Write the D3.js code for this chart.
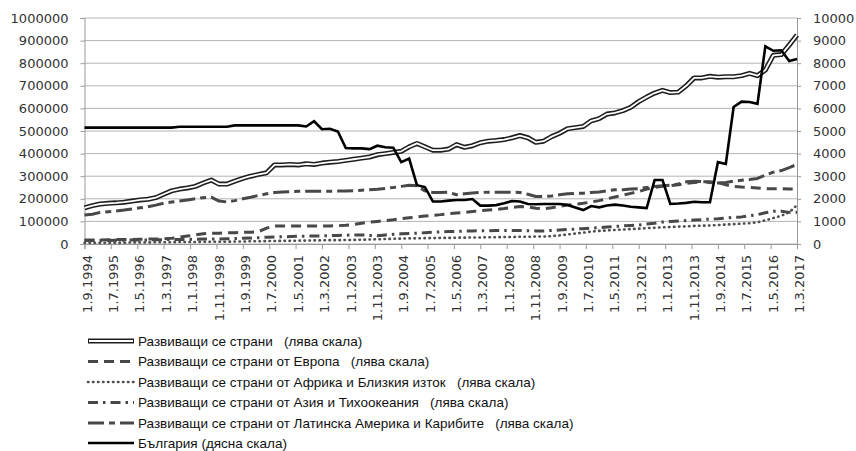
<!DOCTYPE html>
<html><head><meta charset="utf-8">
<script src="https://cdn.jsdelivr.net/npm/d3@7"></script>
<style>body{margin:0;background:#fff} svg{display:block}</style>
</head><body>
<svg id="c" width="856" height="451"></svg>
<script>
// ---------- DATA ----------
const startMonth = "1.9.1994";   // first quarterly observation
const nQuarters = 91;             // quarterly points up to 1.3.2017
const xTickLabels = ["1.9.1994","1.7.1995","1.5.1996","1.3.1997","1.1.1998","1.11.1998","1.9.1999","1.7.2000","1.5.2001","1.3.2002","1.1.2003","1.11.2003","1.9.2004","1.7.2005","1.5.2006","1.3.2007","1.1.2008","1.11.2008","1.9.2009","1.7.2010","1.5.2011","1.3.2012","1.1.2013","1.11.2013","1.9.2014","1.7.2015","1.5.2016","1.3.2017"];
const leftTicks = [0,100000,200000,300000,400000,500000,600000,700000,800000,900000,1000000];
const rightTicks = [0,1000,2000,3000,4000,5000,6000,7000,8000,9000,10000];

// thousands (left scale)
const developing = [160,170,177,180,182,185,190,195,198,205, 220,235,243,248,255,270,283,265,265,278, 290,300,308,315,350,350,352,350,355,352, 358,362,365,370,375,380,385,395,400,405, 410,430,445,430,415,415,420,440,428,435, 448,455,458,462,470,480,470,450,455,475, 490,510,515,520,545,555,575,580,590,605, 630,650,668,680,670,672,700,735,735,742, 738,740,740,745,755,745,770,835,838,880, 925];
const europe = [18,18,18,19,20,20,20,21,22,22, 23,25,30,35,40,45,48,48,50,50, 52,52,55,70,80,80,80,80,80,80, 80,80,81,83,86,92,97,100,103,107, 112,116,120,124,127,130,134,137,140,144, 147,150,153,157,162,166,164,158,156,160, 167,172,176,180,186,192,200,208,216,224, 232,243,250,255,258,262,268,272,275,275, 272,262,255,252,250,248,245,245,245,243, 243];
const africa = [5,5,5,6,6,6,7,7,7,8, 8,8,9,9,9,10,10,10,10,11, 11,12,12,13,13,14,14,15,15,16, 16,17,17,18,18,19,20,21,22,23, 24,25,25,26,26,27,27,28,28,29, 29,30,30,31,31,32,32,33,33,35, 38,42,46,50,55,58,60,62,64,66, 68,70,72,74,75,77,78,80,81,82, 84,86,88,90,92,96,105,115,125,140, 172];
const asia = [15,15,16,16,17,17,18,18,18,19, 19,20,20,20,21,22,22,22,23,24, 25,26,28,30,31,32,33,34,35,35, 36,37,38,39,40,40,38,37,40,43, 45,47,48,50,52,54,55,56,57,58, 59,59,60,60,60,60,59,58,58,60, 62,64,66,68,70,72,75,78,80,82, 84,88,92,97,100,102,104,106,108,110, 112,115,118,120,125,130,138,145,145,140, 140];
const latam = [128,132,140,143,146,150,155,160,165,172, 180,186,190,195,200,205,207,190,186,192, 200,207,215,222,228,230,232,233,233,233, 233,233,234,235,236,238,240,242,246,250, 255,260,258,235,228,228,229,218,222,226, 228,229,229,229,229,228,220,210,210,212, 218,222,224,225,228,230,235,240,240,243, 245,250,255,258,260,265,275,278,276,272, 270,272,278,282,285,290,305,318,325,338, 352];
// right scale
const bulgaria = [5150,5150,5150,5150,5150,5150,5150,5150,5150,5150, 5150,5150,5190,5190,5190,5190,5190,5190,5190,5250, 5250,5250,5250,5250,5250,5250,5250,5250,5200,5430, 5080,5100,4980,4250,4230,4230,4200,4350,4280,4260, 3620,3780,2600,2520,1880,1880,1920,1950,1950,1990, 1700,1700,1720,1800,1900,1880,1770,1760,1770,1770, 1770,1730,1620,1500,1680,1620,1700,1740,1700,1650, 1620,1590,2830,2830,1770,1790,1820,1870,1850,1850, 3620,3540,6060,6300,6280,6200,8750,8550,8570,8100, 8190];

const seriesNames = [
  "Развиващи се страни   (лява скала)",
  "Развиващи се страни от Европа   (лява скала)",
  "Развиващи се страни от Африка и Близкия изток   (лява скала)",
  "Развиващи се страни от Азия и Тихоокеания   (лява скала)",
  "Развиващи се страни от Латинска Америка и Карибите   (лява скала)",
  "България (дясна скала)"
];

// ---------- SETUP ----------
const parseD = s => { const [d,m,y] = s.split(".").map(Number); return new Date(y, m-1, d); };
const dates = d3.range(nQuarters).map(i => d3.timeMonth.offset(parseD(startMonth), 3*i));
const tickDates = xTickLabels.map(parseD);

const svg = d3.select("#c");
const L = 84.5, R = 797, T = 18, B = 244;
const x = d3.scaleTime().domain([tickDates[0], tickDates[tickDates.length-1]]).range([L, R]);
const yL = d3.scaleLinear().domain([0, 1000000]).range([B, T]);
const yR = d3.scaleLinear().domain([0, 10000]).range([B, T]);

const FONT = "DejaVu Sans, Verdana, sans-serif";
const TXT = "#333";
const GRID = "#b4b4b4";

// gridlines
svg.append("g").selectAll("line").data(leftTicks).join("line")
  .attr("x1", L).attr("x2", R).attr("y1", d => yL(d)).attr("y2", d => yL(d))
  .attr("stroke", GRID).attr("stroke-width", 1);

// axes
const gL = svg.append("g").attr("transform", `translate(${L},0)`)
  .call(d3.axisLeft(yL).tickValues(leftTicks).tickSize(4).tickPadding(12).tickFormat(d3.format("d")));
const gR = svg.append("g").attr("transform", `translate(${R},0)`)
  .call(d3.axisRight(yR).tickValues(rightTicks).tickSize(4).tickPadding(12).tickFormat(d3.format("d")));
const gB = svg.append("g").attr("transform", `translate(0,${B})`)
  .call(d3.axisBottom(x).tickValues(tickDates).tickSize(5).tickFormat((d,i) => xTickLabels[i]));
[gL, gR, gB].forEach(g => {
  g.selectAll("path.domain").attr("stroke", "#999");
  g.selectAll(".tick line").attr("stroke", "#999");
  g.selectAll("text").attr("fill", TXT).style("font-family", FONT).style("font-size", "13px");
});
gB.selectAll("text").attr("transform", "rotate(-90)")
  .attr("text-anchor", "end").attr("x", -11).attr("y", 2).attr("dy", "0.35em");

// lines
const lineL = d3.line().x((d,i) => x(dates[i])).y(d => yL(d*1000));
const lineR = d3.line().x((d,i) => x(dates[i])).y(d => yR(d));

const styles = [
  null,
  {dash: "10,6", w: 3, c: "#484848", cap: "butt"},
  {dash: "0.5,4.5", w: 2.6, c: "#505050", cap: "round"},
  {dash: "10,5,2.5,5", w: 3, c: "#484848", cap: "butt"},
  {dash: "16,5,6,5", w: 3, c: "#484848", cap: "butt"}
];
const plot = svg.append("g");
[[latam,4],[europe,1],[asia,3],[africa,2]].forEach(([arr, si]) => {
  const s = styles[si];
  plot.append("path").attr("d", lineL(arr)).attr("fill", "none")
    .attr("stroke", s.c).attr("stroke-width", s.w).attr("stroke-dasharray", s.dash)
    .attr("stroke-linecap", s.cap).attr("stroke-linejoin", "round");
});
plot.append("path").attr("d", lineL(developing)).attr("fill", "none")
  .attr("stroke", "#1e1e1e").attr("stroke-width", 5).attr("stroke-linejoin", "round");
plot.append("path").attr("d", lineL(developing)).attr("fill", "none")
  .attr("stroke", "#fff").attr("stroke-width", 1.8).attr("stroke-linejoin", "round");
plot.append("path").attr("d", lineR(bulgaria)).attr("fill", "none")
  .attr("stroke", "#000").attr("stroke-width", 2.6).attr("stroke-linejoin", "miter");

// legend
const legY = [345.5, 366, 386.5, 407, 427.5, 447.5];
const lg = svg.append("g");
seriesNames.forEach((name, i) => {
  const cy = legY[i] - 4.5;
  const x0 = 88, x1 = 134;
  if (i === 0) {
    lg.append("line").attr("x1", x0).attr("x2", x1).attr("y1", cy).attr("y2", cy)
      .attr("stroke", "#1e1e1e").attr("stroke-width", 5);
    lg.append("line").attr("x1", x0+1).attr("x2", x1-1).attr("y1", cy).attr("y2", cy)
      .attr("stroke", "#fff").attr("stroke-width", 1.8);
  } else if (i === 5) {
    lg.append("line").attr("x1", x0).attr("x2", x1).attr("y1", cy).attr("y2", cy)
      .attr("stroke", "#000").attr("stroke-width", 2.6);
  } else {
    const s = styles[i];
    lg.append("line").attr("x1", x0).attr("x2", x1).attr("y1", cy).attr("y2", cy)
      .attr("stroke", s.c).attr("stroke-width", s.w).attr("stroke-dasharray", s.dash)
      .attr("stroke-linecap", s.cap);
  }
  lg.append("text").attr("x", 138).attr("y", legY[i]).text(name)
    .attr("fill", "#111").style("font-family", "Liberation Sans, Arial, sans-serif")
    .style("font-size", "13.5px").style("white-space", "pre");
});
</script>
</body></html>
